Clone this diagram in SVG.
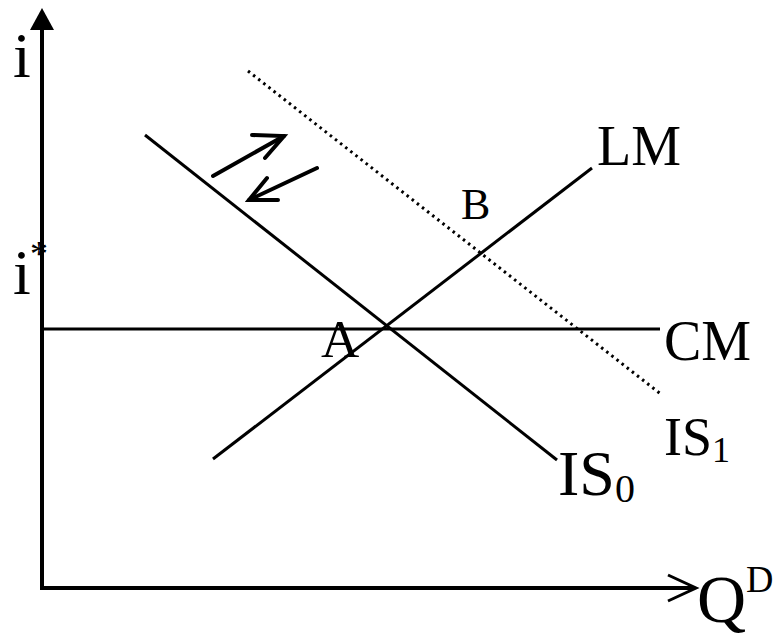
<svg xmlns="http://www.w3.org/2000/svg" width="780" height="639" viewBox="0 0 780 639">
<style>
.ln{stroke:#000;stroke-width:3;fill:none;stroke-linecap:butt}
.ax{stroke:#000;stroke-width:4;fill:none}
.arr{stroke:#000;stroke-width:4;fill:none;stroke-linecap:round;stroke-linejoin:miter}
</style>
<rect width="780" height="639" fill="#fff"/>
<g id="axes">
<line class="ax" x1="42" y1="590" x2="42" y2="26"/>
<polygon points="42,8 30,30 54,30" fill="#000"/>
<line class="ax" x1="40" y1="588" x2="694" y2="588"/>
<polyline points="668,575 696,588 668,601" fill="none" stroke="#000" stroke-width="3"/>
</g>
<g id="connectors">
<line id="CM" class="ln" x1="42" y1="329" x2="660" y2="329"/>
<line id="LM" class="ln" x1="213" y1="459" x2="592" y2="168"/>
<line id="IS0" class="ln" x1="145" y1="135" x2="557" y2="460"/>
<line id="IS1" x1="248" y1="71" x2="662" y2="395" stroke="#000" stroke-width="3" stroke-dasharray="2.5 4"/>
<g id="arrow-up">
<line class="arr" x1="213" y1="176" x2="284" y2="136"/>
<polyline class="arr" points="252,135 284,136 265,158"/>
</g>
<g id="arrow-down">
<line class="arr" x1="317" y1="168" x2="249" y2="200"/>
<polyline class="arr" points="267,178 249,200 278,200"/>
</g>
</g>
<g font-family="'Liberation Serif', Tinos, 'Times New Roman', Times, serif" fill="#000">
<g id="label-i"><text x="13" y="77" font-size="64">i</text></g>
<g id="label-istar"><text x="13" y="294" font-size="64">i</text><text x="30" y="266" font-size="36">*</text></g>
<g id="label-LM"><text x="597" y="165" font-size="56">LM</text></g>
<g id="label-B"><text x="461" y="219" font-size="44">B</text></g>
<g id="label-A"><text x="321" y="357" font-size="53">A</text></g>
<g id="label-CM"><text x="664" y="360" font-size="56">CM</text></g>
<g id="label-IS1"><text x="664" y="455" font-size="54">IS<tspan font-size="36" dy="7">1</tspan></text></g>
<g id="label-IS0"><text x="558" y="495" font-size="64">IS<tspan font-size="40" dy="7">0</tspan></text></g>
<g id="label-QD"><text x="697" y="622" font-size="68">Q<tspan font-size="38" dy="-30">D</tspan></text></g>
</g>
</svg>
